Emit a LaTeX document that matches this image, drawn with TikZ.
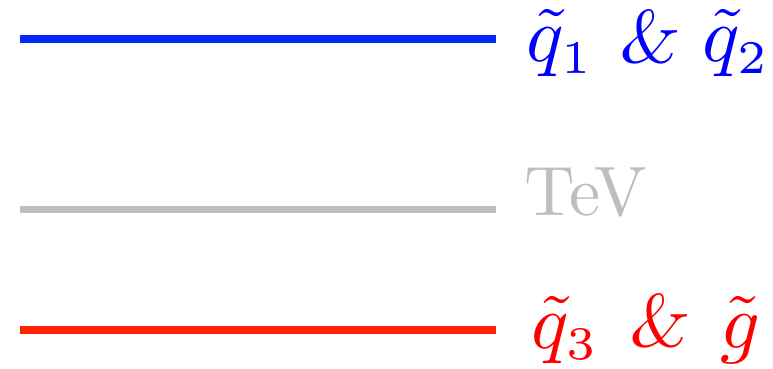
\documentclass[tikz,border=0pt]{standalone}
\DeclareMathSizes{10}{10}{6}{5}
\begin{document}
\begin{tikzpicture}[x=1pt,y=-1pt,
  lvl/.style={line width=8pt},
  mth/.style={inner sep=0pt,anchor=base west,scale=7.8},
  amp/.style={inner sep=0pt,anchor=base west,scale=7.4,font=\slshape},
  txt/.style={inner sep=0pt,anchor=base west,scale=7.0}]
\useasboundingbox (0,0) rectangle (773,369);
\definecolor{sblue}{RGB}{5,40,250}
\definecolor{sgray}{RGB}{190,190,190}
\definecolor{sred}{RGB}{255,35,0}
\coordinate (b0) at (20,39.3);  \coordinate (b1) at (496,39.3);
\coordinate (g0) at (20,209); \coordinate (g1) at (496,209);
\coordinate (r0) at (20,330); \coordinate (r1) at (496,330);
\draw[lvl,sblue] (b0) -- (b1);
\draw[lvl,sgray,line width=7pt] (g0) -- (g1);
\draw[lvl,sred] (r0) -- (r1);
\node[mth,text=blue] (bq1) at (525,62) {$\tilde q_1$};
\node[amp,text=blue] (bamp) at (617,63) {\&};
\node[mth,text=blue] (bq2) at (701,62) {$\tilde q_2$};
\node[txt,text=sgray] (gt) at (523,215) {TeV};
\node[mth,text=red] (rq3) at (530,348) {$\tilde q_3$};
\node[amp,text=red] (ramp) at (627,346) {\&};
\node[mth,text=red] (rg) at (719,348) {$\tilde g$};
\end{tikzpicture}
\end{document}
